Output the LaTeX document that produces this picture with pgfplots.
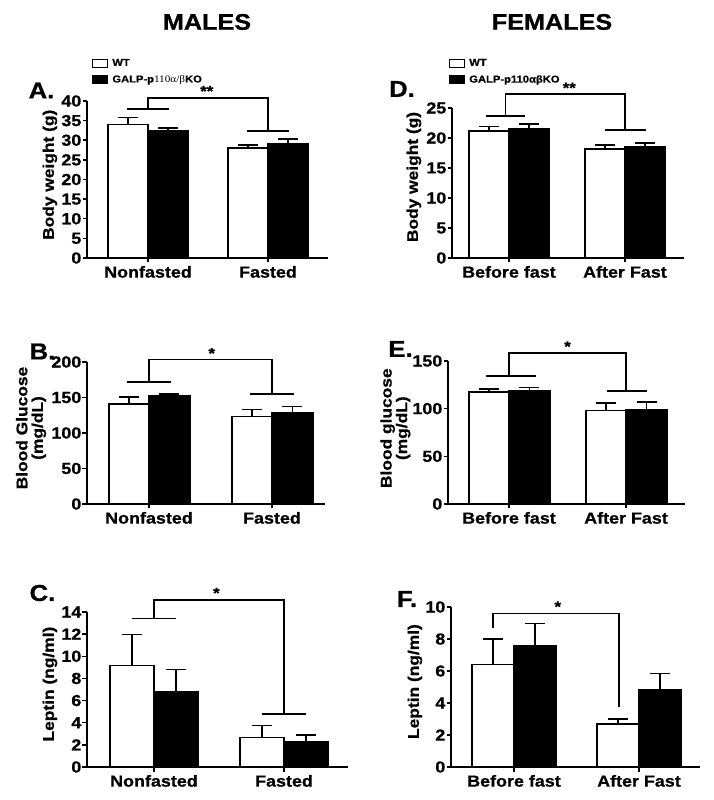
\documentclass[border=0pt]{standalone}
\usepackage{pgfplots}
\pgfplotsset{compat=1.18}
\usepackage{fontspec}
\setmainfont{Liberation Sans}[FakeStretch=1.12, BoldFeatures={FakeBold=0.8}]
\newfontfamily\serifgr{Liberation Serif}[FakeStretch=1.12]
\newcommand{\fs}[1]{\fontsize{#1}{#1}\selectfont}
\tikzset{
  br/.style={line width=1.5pt},
  st/.style={font=\bfseries\fs{15}, anchor=base, inner sep=0pt},
}
\pgfplotsset{
  gp/.style={
    scale only axis, clip=false,
    axis x line*=bottom, axis y line*=left,
    axis line style={line width=1.5pt,-},
    every tick/.style={line width=1.5pt, black},
    tick align=outside, major tick length=4.5pt,
    xtick={1,2}, ymin=0,
    /pgf/number format/assume math mode=true,
    yticklabel style={font=\bfseries\fs{16}, inner xsep=1pt},
    xticklabel style={font=\bfseries\fs{16}},
    ylabel style={font=\bfseries\fs{15.5}, align=center, anchor=center},
  },
  wt/.style={ybar, bar width=#1, bar shift=0pt, fill=white, draw=black, line width=1.5pt,
    legend image code/.code={\draw[line width=1.1pt, draw=black, fill=white] (0pt,-4pt) rectangle (15pt,4pt);},
    error bars/.cd, y dir=plus, y explicit,
    error bar style={line width=1.5pt,black},
    error mark options={rotate=90, mark size=10pt, line width=1.5pt, black}},
  ko/.style={ybar, bar width=#1, bar shift=0pt, fill=black, draw=black, line width=1.5pt,
    legend image code/.code={\draw[line width=1.1pt, draw=black, fill=black] (0pt,-4pt) rectangle (15pt,4pt);},
    error bars/.cd, y dir=plus, y explicit,
    error bar style={line width=1.5pt,black},
    error mark options={rotate=90, mark size=10pt, line width=1.5pt, black}},
  leg/.style={legend style={draw=none, fill=none, font=\bfseries\fs{10}, inner sep=0pt,
    row sep=6pt, legend cell align=left, anchor=north west,
    nodes={inner ysep=1pt, inner xsep=4pt}}},
}
\begin{document}
\begin{tikzpicture}
\useasboundingbox (0pt,0pt) rectangle (714pt,800pt);
\node[font=\bfseries\fs{22.5}] at (207pt,778pt) {MALES};
\node[font=\bfseries\fs{22.5}] at (552pt,778pt) {FEMALES};
\node[font=\bfseries\fs{23}] at (41.5pt,709.5pt) {A.};
\node[font=\bfseries\fs{23}] at (42.5pt,448.5pt) {B.};
\node[font=\bfseries\fs{23}] at (42.5pt,207pt) {C.};
\node[font=\bfseries\fs{23}] at (402pt,711pt) {D.};
\node[font=\bfseries\fs{23}] at (400.5pt,451pt) {E.};
\node[font=\bfseries\fs{23}] at (407pt,201pt) {F.};

% ---------- A ----------
\begin{axis}[gp, at={(87pt,542pt)}, anchor=south west, width=241pt, height=157pt,
  xmin=0.4917, xmax=2.5, ymax=40, ytick={0,5,...,40},
  xticklabels={Nonfasted,Fasted},
  ylabel={Body weight (g)}, ylabel style={at={(axis description cs:-0.154,0.53)}},
  leg, legend style={at={(axis description cs:0.021,1.275)}}]
\addplot[wt=40pt] table[x=x,y=y,y error=e,row sep=\\]{x y e\\ 0.8333 34 1.8\\ 1.8333 28 0.8\\};
\addlegendentry{WT}
\addplot[ko=40pt] table[x=x,y=y,y error=e,row sep=\\]{x y e\\ 1.1667 32.3 0.8\\ 2.1667 29.2 1.1\\};
\addlegendentry{GALP-p{\mdseries\serifgr 110α/β}KO}
\draw[br] (axis cs:1,38) -- (axis cs:1,40.7) -- (axis cs:2,40.7) -- (axis cs:2,32.3);
\draw[br] (axis cs:0.825,38) -- (axis cs:1.175,38);
\draw[br] (axis cs:1.825,32.3) -- (axis cs:2.175,32.3);
\node[st] at (axis cs:1.49,41.2) {**};
\end{axis}

% ---------- B ----------
\begin{axis}[gp, at={(87pt,296pt)}, anchor=south west, width=238pt, height=142pt,
  xmin=0.496, xmax=2.431, ymax=200, ytick={0,50,...,200},
  xticklabels={Nonfasted,Fasted},
  ylabel={Blood Glucose\\(mg/dL)}, ylabel style={at={(axis description cs:-0.235,0.535)}}]
\addplot[wt=40pt] table[x=x,y=y,y error=e,row sep=\\]{x y e\\ 0.8374 141 10\\ 1.8374 123 10\\};
\addplot[ko=41pt] table[x=x,y=y,y error=e,row sep=\\]{x y e\\ 1.1667 152 3\\ 2.1667 128 9\\};
\draw[br] (axis cs:1,172) -- (axis cs:1,203.8) -- (axis cs:2,203.8) -- (axis cs:2,155);
\draw[br] (axis cs:0.821,172) -- (axis cs:1.179,172);
\draw[br] (axis cs:1.821,155) -- (axis cs:2.179,155);
\node[st] at (axis cs:1.51,205) {*};
\end{axis}

% ---------- C ----------
\begin{axis}[gp, at={(87pt,33pt)}, anchor=south west, width=261pt, height=155pt,
  xmin=0.485, xmax=2.492, ymax=14, ytick={0,2,...,14},
  xticklabels={Nonfasted,Fasted},
  ylabel={Leptin (ng/ml)}, ylabel style={at={(axis description cs:-0.142,0.535)}}]
\addplot[wt=44pt] table[x=x,y=y,y error=e,row sep=\\]{x y e\\ 0.8308 9.15 2.8\\ 1.8308 2.65 1.1\\};
\addplot[ko=44pt] table[x=x,y=y,y error=e,row sep=\\]{x y e\\ 1.1692 6.8 2.0\\ 2.1692 2.25 0.65\\};
\draw[br] (axis cs:1,13.4) -- (axis cs:1,15.1) -- (axis cs:2,15.1) -- (axis cs:2,4.8);
\draw[br] (axis cs:0.831,13.4) -- (axis cs:1.169,13.4);
\draw[br] (axis cs:1.831,4.8) -- (axis cs:2.169,4.8);
\node[st] at (axis cs:1.48,15.25) {*};
\end{axis}

% ---------- D ----------
\begin{axis}[gp, at={(452pt,542pt)}, anchor=south west, width=232pt, height=150pt,
  xmin=0.509, xmax=2.509, ymax=25, ytick={0,5,...,25},
  xticklabels={Before fast,After Fast},
  ylabel={Body weight (g)}, ylabel style={at={(axis description cs:-0.164,0.54)}},
  leg, legend style={at={(axis description cs:-0.013,1.335)}}]
\addplot[wt=40pt] table[x=x,y=y,y error=e,row sep=\\]{x y e\\ 0.8276 21.2 0.7\\ 1.8276 18.2 0.6\\};
\addlegendentry{WT}
\addplot[ko=40pt] table[x=x,y=y,y error=e,row sep=\\]{x y e\\ 1.1724 21.6 0.7\\ 2.1724 18.6 0.6\\};
\addlegendentry{GALP-p110αβKO}
\draw[br] (axis cs:0.97,23.7) -- (axis cs:0.97,27.3) -- (axis cs:2,27.3) -- (axis cs:2,21.3);
\draw[br] (axis cs:0.8,23.7) -- (axis cs:1.14,23.7);
\draw[br] (axis cs:1.83,21.3) -- (axis cs:2.18,21.3);
\node[st] at (axis cs:1.52,27.5) {**};
\end{axis}

% ---------- E ----------
\begin{axis}[gp, at={(448pt,296pt)}, anchor=south west, width=237pt, height=143pt,
  xmin=0.479, xmax=2.504, ymax=150, ytick={0,50,...,150},
  xticklabels={Before fast,After Fast},
  ylabel={Blood glucose\\(mg/dL)}, ylabel style={at={(axis description cs:-0.222,0.53)}}]
\addplot[wt=40pt] table[x=x,y=y,y error=e,row sep=\\]{x y e\\ 0.829 117.5 3\\ 1.829 98 8\\};
\addplot[ko=41pt] table[x=x,y=y,y error=e,row sep=\\]{x y e\\ 1.175 119 3\\ 2.175 99 8\\};
\draw[br] (axis cs:1,134) -- (axis cs:1,158.4) -- (axis cs:2,158.4) -- (axis cs:2,118.6);
\draw[br] (axis cs:0.8,134) -- (axis cs:1.23,134);
\draw[br] (axis cs:1.84,118.6) -- (axis cs:2.18,118.6);
\node[st] at (axis cs:1.5,159.8) {*};
\end{axis}

% ---------- F ----------
\begin{axis}[gp, at={(451pt,33pt)}, anchor=south west, width=249pt, height=160pt,
  xmin=0.496, xmax=2.488, ymax=10, ytick={0,2,...,10},
  xticklabels={Before fast,After Fast},
  ylabel={Leptin (ng/ml)}, ylabel style={at={(axis description cs:-0.145,0.534)}}]
\addplot[wt=42pt] table[x=x,y=y,y error=e,row sep=\\]{x y e\\ 0.832 6.4 1.6\\ 1.832 2.68 0.31\\};
\addplot[ko=42pt] table[x=x,y=y,y error=e,row sep=\\]{x y e\\ 1.168 7.6 1.37\\ 2.168 4.85 1.0\\};
\draw[br] (axis cs:0.832,8.71) -- (axis cs:0.832,9.58) -- (axis cs:1.84,9.58) -- (axis cs:1.84,3.78);
\node[st] at (axis cs:1.35,9.7) {*};
\end{axis}
\end{tikzpicture}
\end{document}
